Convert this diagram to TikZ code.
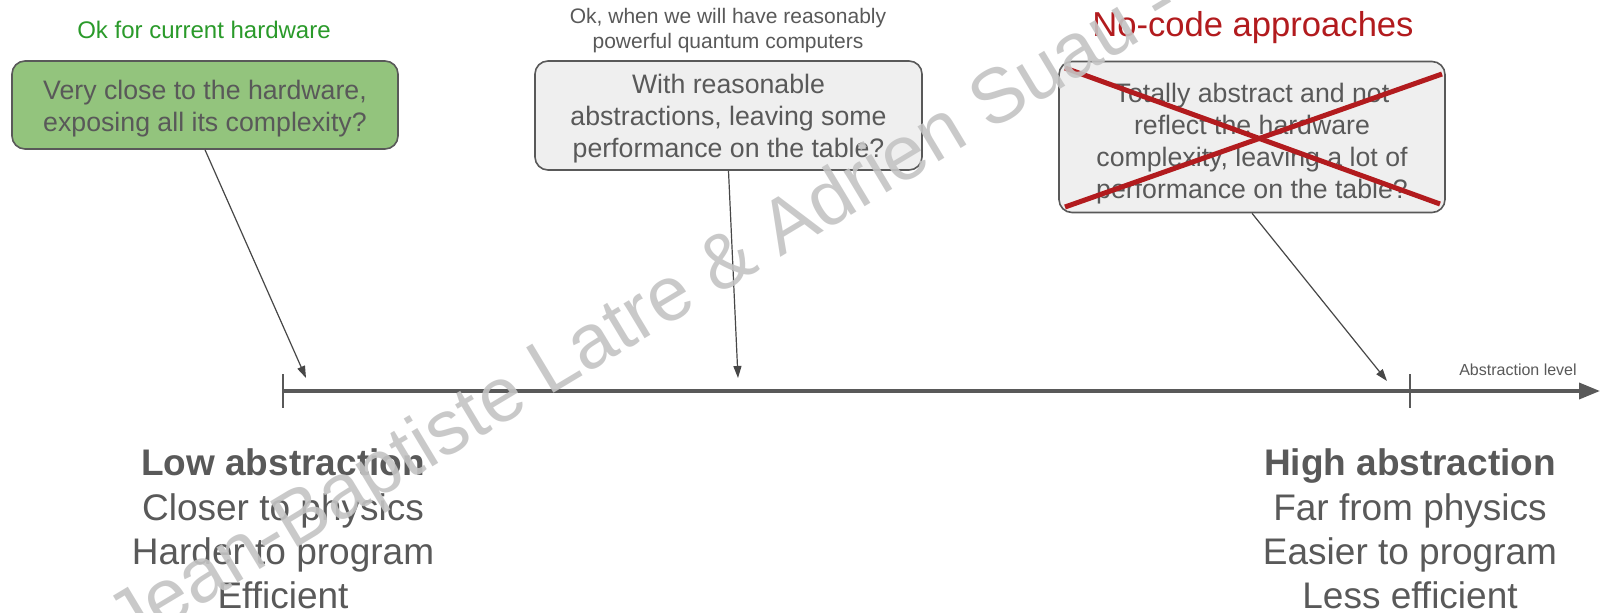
\documentclass[tikz,border=0pt]{standalone}
\usepackage{fontspec}
\setmainfont{Liberation Sans}
\usetikzlibrary{arrows.meta}
\definecolor{txt}{HTML}{595959}
\definecolor{gfill}{HTML}{93C47D}
\definecolor{bfill}{HTML}{EFEFEF}
\definecolor{nored}{HTML}{B21B1E}
\definecolor{gtxt}{HTML}{2A9A2A}
\definecolor{wm}{HTML}{C4C4C4}
\begin{document}
\begin{tikzpicture}[x=1pt,y=-1pt,
  box/.style={draw=txt, line width=1.6pt, rounded corners=13pt, inner sep=0pt},
  boxtext/.style={text=txt, align=center, font=\fontsize{26.7}{32}\selectfont, inner sep=0pt},
  pointer/.style={draw=txt!80!black, line width=1.2pt, -{Triangle[length=12pt,width=8pt]}},
  axisline/.style={draw=txt, line width=3.6pt, -{Triangle[length=21pt,width=16pt]}},
  tickmark/.style={draw=txt, line width=1.8pt},
  cross/.style={draw=nored, line width=5pt},
  lbl/.style={text=txt, align=center, font=\fontsize{37}{44.2}\selectfont, inner sep=0pt},
  head/.style={align=center, inner sep=0pt}]
\useasboundingbox (0,0) rectangle (1601,613);
\fill[white] (0,0) rectangle (1601,613);

% headers
\node[head, text=gtxt, font=\fontsize{24}{28}\selectfont] (h1) at (204,30) {Ok for current hardware};
\node[head, text=txt, font=\fontsize{21}{24.5}\selectfont] (h2) at (728,30.5) {Ok, when we will have reasonably\\powerful quantum computers};
\node[head, text=nored, font=\fontsize{34.6}{40}\selectfont] (h3) at (1253,28) {No-code approaches};

% boxes
\node[box, fill=gfill, minimum width=386pt, minimum height=88pt] (g) at (205,105) {};
\node[boxtext] (gt) at (205,109) {Very close to the hardware,\\exposing all its complexity?};
\node[box, fill=bfill, minimum width=387pt, minimum height=109pt] (b2) at (728.5,115.5) {};
\node[boxtext] (b2t) at (728.5,119) {With reasonable\\abstractions, leaving some\\performance on the table?};
\node[box, fill=bfill, minimum width=386pt, minimum height=151pt] (b3) at (1252,137) {};
\node[boxtext] (b3t) at (1252,143.5) {Totally abstract and not\\reflect the hardware\\complexity, leaving a lot of\\performance on the table?};

% red cross
\coordinate (xa) at (1065,68);
\coordinate (xb) at (1440,204);
\coordinate (xc) at (1065,207);
\coordinate (xd) at (1442,74);
\draw[cross] (xa) -- (xb);
\draw[cross] (xc) -- (xd);

% axis
\coordinate (a0) at (283,391);
\coordinate (a1) at (1600,391);
\draw[axisline] (a0) -- (a1);
\coordinate (t1a) at (283,374);
\coordinate (t1b) at (283,408);
\coordinate (t2a) at (1410,374);
\coordinate (t2b) at (1410,408);
\draw[tickmark] (t1a) -- (t1b);
\draw[tickmark] (t2a) -- (t2b);
\node[text=txt, font=\fontsize{16}{18}\selectfont, inner sep=0pt] (al) at (1518,370) {Abstraction level};

% pointers
\coordinate (pg) at (306,378);
\coordinate (pm) at (738,378);
\coordinate (pr) at (1387,381);
\draw[pointer] (g.south) -- (pg);
\draw[pointer] (b2.south) -- (pm);
\draw[pointer] (b3.south) -- (pr);

% bottom labels
\node[lbl] (low) at (283,529) {\textbf{Low abstraction}\\Closer to physics\\Harder to program\\Efficient};
\node[lbl] (high) at (1410,529) {\textbf{High abstraction}\\Far from physics\\Easier to program\\Less efficient};

% watermark
\begin{scope}
\clip (0,0) rectangle (1601,613);
\node[rotate=31, anchor=base west, text=wm, opacity=0.9, inner sep=0pt,
  font=\fontsize{77}{77}\selectfont] (wmark) at (127,650) {Jean-Baptiste Latre \& Adrien Suau -};
\end{scope}
\end{tikzpicture}
\end{document}
